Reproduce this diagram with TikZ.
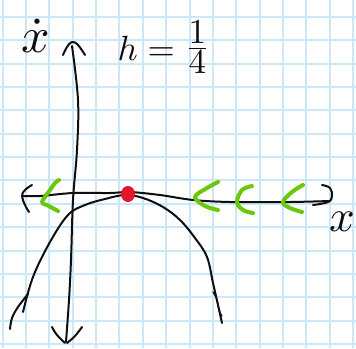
\documentclass[tikz,border=0pt]{standalone}
\usepackage{amsmath}
\definecolor{gridblue}{RGB}{204,231,250}
\definecolor{ink}{RGB}{15,15,15}
\definecolor{arrowgreen}{RGB}{105,200,10}
\definecolor{dotred}{RGB}{228,22,45}
\tikzset{
  gridline/.style={draw=gridblue, line width=2pt},
  inkline/.style={draw=ink, line width=2pt, line cap=round, line join=round},
  greenmark/.style={draw=arrowgreen, line width=4pt, line cap=round, line join=round},
  hand/.style={text=ink, inner sep=0pt},
}
\begin{document}
\begin{tikzpicture}[x=1pt,y=-1pt]
\useasboundingbox (0,0) rectangle (356,348);
\fill[white] (0,0) rectangle (356,348);
% grid paper
\foreach \i in {0,...,15} {
  \draw[gridline] ({2.7+23.35*\i},0) -- ({2.7+23.35*\i},348);
  \draw[gridline] (0,{17+23.35*\i}) -- (356,{17+23.35*\i});
}
% vertical axis
\coordinate (vtop) at (72,46);
\coordinate (vbot) at (66,342);
\draw[inkline] plot[smooth, tension=0.6] coordinates {(72,46) (78,100) (77,150) (73,200) (71,260) (69,300) (66,342)};
\draw[inkline] plot[smooth, tension=0.7] coordinates {(63,55) (67,47) (72,42) (78,45) (85,55)};
\draw[inkline] plot[smooth, tension=0.7] coordinates {(52,327) (57,335) (65,343)};
\draw[inkline] plot[smooth, tension=0.7] coordinates {(82,327) (75,336) (67,343)};
% horizontal axis
\draw[inkline] plot[smooth, tension=0.5] coordinates {(22,196) (40,196) (73,193) (110,193) (130,192) (160,195) (193,200) (230,202) (290,202) (330,201)};
\draw[inkline] plot[smooth, tension=0.7] coordinates {(32,185) (25,190) (22,196) (25,205) (29,212)};
\draw[inkline] plot[smooth, tension=0.7] coordinates {(322,185) (330,188) (332,196) (328,202) (313,205)};
% parabola
\draw[inkline] plot[smooth, tension=0.6] coordinates {(23,312) (33,277) (50,242) (68,215) (85,205) (105,199) (125,195) (143,198) (163,207) (180,220) (195,238) (207,257) (213,283) (218,305) (222,323)};
\draw[inkline] plot[smooth, tension=0.6] coordinates {(10,329) (12,318) (18,307) (28,294)};
\draw[inkline, line width=1.2pt] plot[smooth, tension=0.6] coordinates {(213,292) (217,300) (219,310) (222,316)};
% green flow arrows
\draw[greenmark] plot[smooth, tension=0.6] coordinates {(59,180) (55,183) (50,190) (42,202) (47,205) (58,211)};
\draw[greenmark] plot[smooth, tension=0.6] coordinates {(218,182) (207,188) (195,197) (205,206) (218,210)};
\draw[greenmark] plot[smooth, tension=0.6] coordinates {(252,186) (242,190) (237,202) (243,210) (253,213)};
\draw[greenmark] plot[smooth, tension=0.6] coordinates {(303,185) (292,192) (283,202) (290,208) (302,212)};
% fixed point
\fill[dotred] (128,194) ellipse [x radius=7, y radius=8];
% labels
\node[hand, scale=5, anchor=base] (xdot) at (36,52) {$\dot{x}$};
\node[hand, scale=3.5, anchor=base west] (hval) at (117,60) {$h=\raisebox{0.8pt}{$\frac{\textstyle 1}{\textstyle 4}$}$};
\node[hand, scale=4.5, anchor=base] (xlab) at (342,231) {$x$};
\end{tikzpicture}
\end{document}
